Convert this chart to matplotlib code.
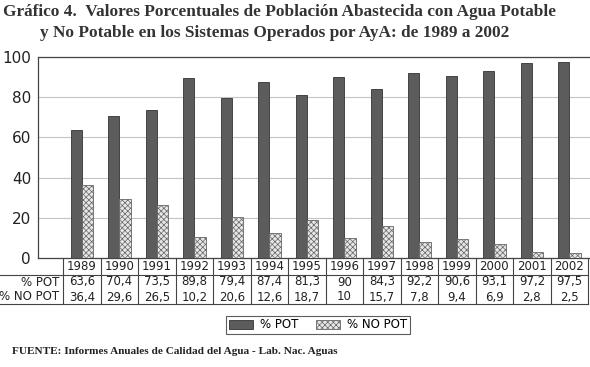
import matplotlib.pyplot as plt
import matplotlib.transforms as mtransforms
import numpy as np

years = ['1989', '1990', '1991', '1992', '1993', '1994', '1995',
         '1996', '1997', '1998', '1999', '2000', '2001', '2002']
pot = [63.6, 70.4, 73.5, 89.8, 79.4, 87.4, 81.3, 90, 84.3, 92.2, 90.6, 93.1, 97.2, 97.5]
no_pot = [36.4, 29.6, 26.5, 10.2, 20.6, 12.6, 18.7, 10, 15.7, 7.8, 9.4, 6.9, 2.8, 2.5]
pot_labels = ['63,6', '70,4', '73,5', '89,8', '79,4', '87,4', '81,3',
              '90', '84,3', '92,2', '90,6', '93,1', '97,2', '97,5']
no_pot_labels = ['36,4', '29,6', '26,5', '10,2', '20,6', '12,6', '18,7',
                 '10', '15,7', '7,8', '9,4', '6,9', '2,8', '2,5']

plt.rcParams['hatch.linewidth'] = 0.5

fig = plt.figure(figsize=(5.9, 3.67), dpi=100)
ax = fig.add_axes([38 / 590, 1 - 258 / 367, 552 / 590, 201 / 367])

x = np.arange(len(years))
w = 0.3
ax.bar(x - w / 2, pot, w, color='#5c5c5c', edgecolor='#333333', linewidth=0.6, label='% POT', zorder=3)
ax.bar(x + w / 2, no_pot, w, color='#e6e6e6', edgecolor='#666666', hatch='xxxxxx',
       linewidth=0.6, label='% NO POT', zorder=3)

ax.set_xlim(-1.17, 13.55)
ax.set_ylim(0, 100)
ax.set_yticks([0, 20, 40, 60, 80, 100])
ax.tick_params(axis='y', length=0, pad=5, labelsize=11, labelcolor='#222222')
ax.set_xticks([])
ax.yaxis.grid(True, color='#c4c4c4', linewidth=0.8, zorder=0)
ax.spines['right'].set_visible(False)
for s in ['left', 'top', 'bottom']:
    ax.spines[s].set_color('#444444')
    ax.spines[s].set_linewidth(0.9)

# data table under the axis
tr = mtransforms.blended_transform_factory(ax.transData, ax.transAxes)
y_line1 = -17 / 201
y_bottom = -46 / 201
line_kw = dict(transform=tr, color='#444444', linewidth=0.8, clip_on=False)
ax.plot([-2.3, 13.5], [y_line1, y_line1], **line_kw)
ax.plot([-2.3, 13.5], [y_bottom, y_bottom], **line_kw)
for b in np.arange(-0.5, 14, 1):
    ax.plot([b, b], [0, y_bottom], **line_kw)

txt_kw = dict(transform=tr, fontsize=8.5, ha='center', va='center', color='#222222')
for i in range(len(years)):
    ax.text(x[i], -9 / 201, years[i], **txt_kw)
    ax.text(x[i], -24 / 201, pot_labels[i], **txt_kw)
    ax.text(x[i], -39 / 201, no_pot_labels[i], **txt_kw)
ax.text(-0.6, -24 / 201, '% POT', transform=tr, fontsize=8.5, ha='right', va='center', color='#222222')
ax.text(-0.6, -39 / 201, '% NO POT', transform=tr, fontsize=8.5, ha='right', va='center', color='#222222')

leg = fig.legend(loc='center', bbox_to_anchor=(318 / 590, 1 - 325 / 367), ncol=2,
                 fontsize=8.5, frameon=True, fancybox=False, edgecolor='#333333',
                 handlelength=2.0, handleheight=0.9, borderpad=0.25, columnspacing=1.5,
                 handletextpad=0.6)
leg.get_frame().set_linewidth(0.8)

serif = ['Liberation Serif', 'DejaVu Serif']
fig.text(3 / 590, 1 - 12.5 / 367, 'Gráfico 4.  Valores Porcentuales de Población Abastecida con Agua Potable',
         fontsize=12.4, fontweight='bold', family=serif, ha='left', va='center', color='#333333')
fig.text(40 / 590, 1 - 33 / 367, 'y No Potable en los Sistemas Operados por AyA: de 1989 a 2002',
         fontsize=12.4, fontweight='bold', family=serif, ha='left', va='center', color='#333333')
fig.text(12 / 590, 1 - 352 / 367, 'FUENTE: Informes Anuales de Calidad del Agua - Lab. Nac. Aguas',
         fontsize=8.1, fontweight='bold', family=serif, ha='left', va='center', color='#222222')

fig.savefig('out.png', dpi=100)
